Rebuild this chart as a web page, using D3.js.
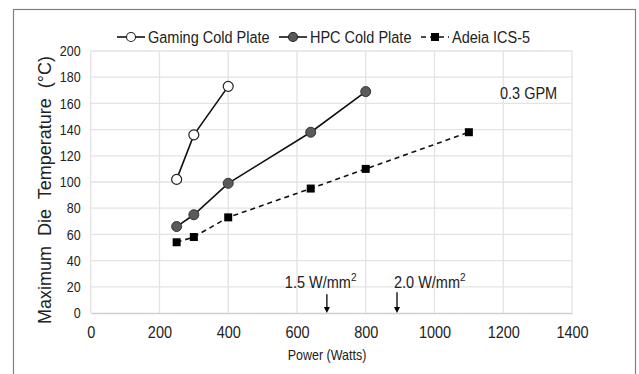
<!DOCTYPE html>
<html>
<head>
<meta charset="utf-8">
<script src="https://cdn.jsdelivr.net/npm/d3@7"></script>
<style>
  body { margin: 0; background: #fff; }
  text { font-family: "Liberation Sans", Arial, sans-serif; fill: #222; }
</style>
</head>
<body>
<div id="vis"></div>
<script>
var width = 639;
var height = 374;

// data
var seriesNames = ["Gaming Cold Plate", "HPC Cold Plate", "Adeia ICS-5"];
var gamingPower = [250, 300, 400];
var gamingTemp = [102, 136, 173];
var hpcPower = [250, 300, 400, 640, 800];
var hpcTemp = [66, 75, 99, 138, 169];
var adeiaPower = [250, 300, 400, 640, 800, 1100];
var adeiaTemp = [54, 58, 73, 95, 110, 138];
var xTicks = [0, 200, 400, 600, 800, 1000, 1200, 1400];
var yTicks = [0, 20, 40, 60, 80, 100, 120, 140, 160, 180, 200];
var densityLabels = ["1.5 W/mm", "2.0 W/mm"];
var densityPower = [687, 891];

var svg = d3.select("#vis")
  .append("svg")
  .attr("width", width)
  .attr("height", height);

// the source image text is a bit taller than it is wide
function stretch(sel, s) {
  sel.each(function() {
    var b = this.getBBox();
    var c = b.y + b.height / 2;
    d3.select(this).attr("transform", `translate(0,${c}) scale(1,${s}) translate(0,${-c})`);
  });
}

// outer frame
svg.append("rect")
  .attr("x", 13.5)
  .attr("y", 9.5)
  .attr("width", 622)
  .attr("height", 380)
  .style("fill", "none")
  .style("stroke", "#808080")
  .style("stroke-width", 1.2);

const x = d3.scaleLinear()
  .domain([0, 1400])
  .range([90.7, 572]);

const y = d3.scaleLinear()
  .domain([0, 200])
  .range([313, 51]);

// gridlines
svg.append("g")
  .selectAll("line")
  .data(xTicks)
  .enter()
  .append("line")
  .attr("x1", d => x(d))
  .attr("x2", d => x(d))
  .attr("y1", y(0))
  .attr("y2", y(200))
  .style("stroke", "#e3e3e3")
  .style("stroke-width", 1.3);

svg.append("g")
  .selectAll("line")
  .data(yTicks.slice(1))
  .enter()
  .append("line")
  .attr("x1", x(0))
  .attr("x2", x(1400))
  .attr("y1", d => y(d))
  .attr("y2", d => y(d))
  .style("stroke", "#e3e3e3")
  .style("stroke-width", 1.3);

// axes
const xAxis = d3.axisBottom(x)
  .tickValues(xTicks)
  .tickFormat(d3.format("d"))
  .tickSize(0)
  .tickPadding(14);

var gx = svg.append("g")
  .attr("transform", `translate(0, ${y(0)})`)
  .call(xAxis);
gx.select(".domain").style("stroke", "#d0d0d0").style("stroke-width", 1.3);
gx.selectAll("text")
  .style("font-size", "14.5px")
  .style("fill", "#222")
  .call(stretch, 1.17);

const yAxis = d3.axisLeft(y)
  .tickValues(yTicks)
  .tickSize(0)
  .tickPadding(10);

var gy = svg.append("g")
  .attr("transform", `translate(${x(0)}, 0)`)
  .call(yAxis);
gy.select(".domain").remove();
gy.selectAll("text")
  .style("font-size", "12.5px")
  .style("fill", "#222")
  .call(stretch, 1.15);

// axis titles
svg.append("text")
  .attr("x", 327)
  .attr("y", 360)
  .attr("text-anchor", "middle")
  .style("font-size", "12.5px")
  .text("Power (Watts)")
  .call(stretch, 1.12);

svg.append("text")
  .attr("transform", "translate(51, 190) rotate(-90)")
  .attr("text-anchor", "middle")
  .style("font-size", "18px")
  .style("white-space", "pre")
  .text("Maximum  Die  Temperature  (°C)");

// series
var line = d3.line().x(d => x(d[0])).y(d => y(d[1]));

var gamingData = d3.zip(gamingPower, gamingTemp);
var hpcData = d3.zip(hpcPower, hpcTemp);
var adeiaData = d3.zip(adeiaPower, adeiaTemp);

svg.append("path")
  .datum(adeiaData)
  .attr("d", line)
  .style("fill", "none")
  .style("stroke", "#111")
  .style("stroke-width", 1.6)
  .style("stroke-dasharray", "5,4");

svg.append("path")
  .datum(hpcData)
  .attr("d", line)
  .style("fill", "none")
  .style("stroke", "#111")
  .style("stroke-width", 1.6);

svg.append("path")
  .datum(gamingData)
  .attr("d", line)
  .style("fill", "none")
  .style("stroke", "#111")
  .style("stroke-width", 1.6);

svg.append("g")
  .selectAll("rect")
  .data(adeiaData)
  .enter()
  .append("rect")
  .attr("x", d => x(d[0]) - 4)
  .attr("y", d => y(d[1]) - 4)
  .attr("width", 8)
  .attr("height", 8)
  .style("fill", "#000");

svg.append("g")
  .selectAll("circle")
  .data(hpcData)
  .enter()
  .append("circle")
  .attr("cx", d => x(d[0]))
  .attr("cy", d => y(d[1]))
  .attr("r", 5)
  .style("fill", "#5a5a5a")
  .style("stroke", "#333")
  .style("stroke-width", 1);

svg.append("g")
  .selectAll("circle")
  .data(gamingData)
  .enter()
  .append("circle")
  .attr("cx", d => x(d[0]))
  .attr("cy", d => y(d[1]))
  .attr("r", 5)
  .style("fill", "#fff")
  .style("stroke", "#222")
  .style("stroke-width", 1.2);

// legend
var legendY = 37;
var legendItems = [
  {name: seriesNames[0], x0: 117, marker: "open"},
  {name: seriesNames[1], x0: 279, marker: "gray"},
  {name: seriesNames[2], x0: 421, marker: "square"}
];

legendItems.forEach(function(item) {
  var g = svg.append("g");
  g.append("line")
    .attr("x1", item.x0)
    .attr("x2", item.x0 + 28)
    .attr("y1", legendY)
    .attr("y2", legendY)
    .style("stroke", "#111")
    .style("stroke-width", 1.6)
    .style("stroke-dasharray", item.marker == "square" ? "5,4" : null);
  if (item.marker == "square") {
    g.append("rect")
      .attr("x", item.x0 + 10)
      .attr("y", legendY - 4)
      .attr("width", 8)
      .attr("height", 8)
      .style("fill", "#000");
  } else {
    g.append("circle")
      .attr("cx", item.x0 + 14)
      .attr("cy", legendY)
      .attr("r", 4.5)
      .style("fill", item.marker == "open" ? "#fff" : "#5a5a5a")
      .style("stroke", "#222")
      .style("stroke-width", 1.1);
  }
  g.append("text")
    .attr("x", item.x0 + 31)
    .attr("y", legendY + 5.5)
    .style("font-size", "14.5px")
    .text(item.name)
    .call(stretch, 1.17);
});

// annotations
svg.append("text")
  .attr("x", 500)
  .attr("y", 98)
  .style("font-size", "14.5px")
  .text("0.3 GPM")
  .call(stretch, 1.17);

var labelOffset = [-42, -3];
densityPower.forEach(function(p, i) {
  var t = svg.append("text")
    .attr("x", x(p) + labelOffset[i])
    .attr("y", 287)
    .style("font-size", "14.5px")
    .text(densityLabels[i]);
  t.append("tspan")
    .attr("dy", -6)
    .style("font-size", "10px")
    .text("2");
  t.call(stretch, 1.15);

  svg.append("line")
    .attr("x1", x(p))
    .attr("x2", x(p))
    .attr("y1", y(12) - 3 + i * -2)
    .attr("y2", y(0) - 2)
    .style("stroke", "#000")
    .style("stroke-width", 1.3);
  svg.append("path")
    .attr("d", `M${x(p) - 3},${y(0) - 6} L${x(p) + 3},${y(0) - 6} L${x(p)},${y(0)} Z`)
    .style("fill", "#000");
});
</script>
</body>
</html>
